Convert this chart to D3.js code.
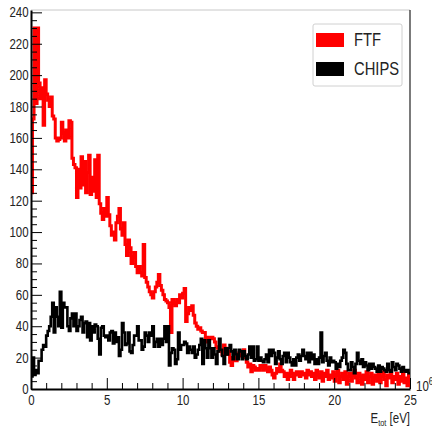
<!DOCTYPE html>
<html>
<head>
<meta charset="utf-8">
<script src="https://cdn.jsdelivr.net/npm/d3@7"></script>
<style>
  body { margin: 0; background: #fff; }
  svg text { font-family: "Liberation Sans", Arial, sans-serif; fill: #222; }
</style>
</head>
<body>
<div id="chart"></div>
<script>
// histogram binning: 250 bins of 0.1 (x in units of 10^6 eV)
const binWidth = 0.1;
const seriesNames = ["FTF", "CHIPS"];
const seriesColors = ["#ff0000", "#000000"];

// FTF counts per bin, 10 bins per row
const ftf = [
  125, 172, 230, 182, 230, 195, 185, 192, 168, 197,
  188, 184, 180, 186, 174, 172, 160, 158, 159, 160,
  170, 163, 158, 165, 160, 171, 170, 147, 143, 141,
  122, 140, 128, 148, 130, 145, 125, 138, 149, 124,
  135, 126, 146, 122, 149, 118, 112, 108, 115, 110,
  122, 111, 104, 98, 100, 95, 106, 110, 115, 102,
  98, 106, 92, 85, 95, 90, 80, 84, 87, 78,
  74, 78, 74, 72, 92, 71, 68, 65, 62, 60,
  58, 62, 65, 68, 73, 66, 63, 60, 57, 56,
  55, 52, 36, 57, 55, 53, 57, 55, 60, 58,
  61, 64, 43, 48, 52, 50, 53, 47, 42, 40,
  38, 39, 37, 36, 36, 30, 33, 32, 32, 33,
  32, 30, 27, 26, 24, 24, 22, 28, 26, 22,
  24, 17, 15, 20, 20, 18, 22, 23, 21, 24,
  25, 20, 17, 14, 16, 11, 15, 14, 12, 13,
  12, 15, 14, 12, 15, 13, 11, 14, 12, 9,
  7, 10, 13, 11, 16, 12, 11, 8, 10, 6,
  8, 12, 10, 6, 9, 11, 10, 8, 11, 9,
  10, 7, 12, 9, 11, 8, 10, 6, 12, 9,
  7, 11, 5, 10, 8, 12, 6, 9, 7, 11,
  5, 9, 12, 4, 8, 10, 6, 11, 3, 8,
  10, 5, 9, 12, 7, 4, 10, 8, 3, 9,
  6, 11, 4, 8, 10, 3, 7, 9, 5, 10,
  4, 8, 11, 6, 2, 9, 7, 10, 4, 8,
  6, 10, 3, 8, 5, 11, 4, 7, 2, 9
];

// CHIPS counts per bin
const chips = [
  8, 20, 9, 12, 10, 18, 18, 25, 28, 27,
  34, 37, 40, 46, 55, 36, 52, 46, 40, 62,
  39, 55, 52, 52, 40, 37, 45, 48, 40, 48,
  37, 40, 44, 46, 36, 42, 43, 33, 42, 31,
  40, 36, 41, 40, 32, 22, 39, 40, 34, 33,
  34, 31, 36, 37, 29, 36, 30, 33, 21, 25,
  42, 36, 28, 29, 36, 24, 23, 28, 34, 34,
  40, 31, 31, 25, 27, 36, 34, 30, 36, 34,
  40, 27, 30, 32, 27, 32, 28, 32, 40, 30,
  40, 15, 23, 26, 25, 16, 19, 36, 25, 28,
  28, 30, 29, 23, 27, 25, 23, 27, 20, 22,
  25, 28, 32, 16, 31, 26, 20, 31, 26, 20,
  26, 22, 16, 24, 32, 25, 21, 16, 26, 22,
  26, 28, 24, 19, 25, 22, 19, 25, 24, 19,
  24, 21, 19, 22, 27, 20, 27, 18, 19, 27,
  18, 20, 18, 17, 19, 22, 17, 25, 21, 25,
  23, 16, 20, 24, 19, 16, 21, 23, 17, 23,
  20, 17, 15, 19, 15, 20, 22, 18, 21, 25,
  21, 19, 23, 17, 23, 19, 22, 16, 19, 16,
  20, 36, 17, 21, 23, 18, 15, 20, 17, 18,
  17, 13, 16, 14, 18, 20, 25, 23, 16, 12,
  12, 17, 14, 10, 16, 23, 18, 16, 19, 14,
  17, 15, 12, 16, 13, 16, 14, 13, 11, 15,
  11, 14, 13, 12, 11, 16, 12, 11, 17, 14,
  12, 16, 15, 13, 11, 14, 12, 11, 12, 10
];

const xMajorTicks = [0, 5, 10, 15, 20, 25];
const yMajorTicks = [0, 20, 40, 60, 80, 100, 120, 140, 160, 180, 200, 220, 240];

const W = 432, H = 429;
const margin = {top: 10, right: 22, bottom: 40, left: 31};
const width = W - margin.left - margin.right;
const height = H - margin.top - margin.bottom;
const narrow = 0.82; // squeeze text horizontally like the narrow reference font

const svg = d3.select("#chart").append("svg")
  .attr("width", W)
  .attr("height", H);

const g = svg.append("g")
  .attr("transform", `translate(${margin.left},${margin.top})`);

const x = d3.scaleLinear().domain([0, 25]).range([0, width]);
const y = d3.scaleLinear().domain([0, 241.5]).range([height, 0]);

// frame top / right
g.append("line").attr("x1", 0).attr("x2", width).attr("y1", 0).attr("y2", 0)
  .attr("stroke", "#c8c8c8").attr("stroke-width", 1);
g.append("line").attr("x1", width).attr("x2", width).attr("y1", 0).attr("y2", height)
  .attr("stroke", "#222").attr("stroke-width", 1.2);

g.append("clipPath").attr("id", "clip")
  .append("rect").attr("width", width).attr("height", height);

const line = d3.line()
  .x(d => x(d[0]))
  .y(d => y(d[1]))
  .curve(d3.curveStepAfter);

function stepPoints(vals) {
  let pts = vals.map((v, i) => [i * binWidth, v]);
  pts.push([vals.length * binWidth, vals[vals.length - 1]]);
  return pts;
}

[ftf, chips].forEach((vals, k) => {
  g.append("path")
    .attr("clip-path", "url(#clip)")
    .attr("d", line(stepPoints(vals)))
    .attr("fill", "none")
    .attr("stroke", seriesColors[k])
    .attr("stroke-width", k === 0 ? 3 : 2.6)
    .attr("stroke-linejoin", "miter");
});

// y axis
const yMinor = d3.range(0, 241, 5).filter(v => v % 20 !== 0);
g.append("g")
  .call(d3.axisLeft(y).tickValues(yMinor).tickSize(-6).tickFormat(""))
  .call(a => a.select(".domain").remove())
  .selectAll("line").attr("stroke", "#000");
const yAxis = g.append("g")
  .call(d3.axisLeft(y).tickValues(yMajorTicks).tickSizeInner(-11).tickSizeOuter(0).tickPadding(3));
yAxis.select(".domain").attr("stroke", "#000").attr("stroke-width", 2);
yAxis.selectAll("line").attr("stroke", "#000");
yAxis.selectAll("text").attr("font-size", 14).attr("transform", `scale(${narrow},1)`);

// x axis
const xMinor = d3.range(0, 26, 1).filter(v => v % 5 !== 0);
g.append("g")
  .attr("transform", `translate(0,${height})`)
  .call(d3.axisBottom(x).tickValues(xMinor).tickSize(-6).tickFormat(""))
  .call(a => a.select(".domain").remove())
  .selectAll("line").attr("stroke", "#000");
const xAxis = g.append("g")
  .attr("transform", `translate(0,${height})`)
  .call(d3.axisBottom(x).tickValues(xMajorTicks).tickSizeInner(-11).tickSizeOuter(0).tickPadding(6));
xAxis.select(".domain").attr("stroke", "#000").attr("stroke-width", 2);
xAxis.selectAll("line").attr("stroke", "#000");
xAxis.selectAll("text").attr("font-size", 14).attr("transform", `scale(${narrow},1)`);

// axis title and exponent
const title = svg.append("g")
  .attr("transform", `translate(${margin.left + width},423) scale(${narrow},1)`)
  .append("text")
  .attr("text-anchor", "end")
  .attr("font-size", 14);
title.append("tspan").text("E");
title.append("tspan").attr("font-size", 9).attr("dy", 3).text("tot");
title.append("tspan").attr("dy", -3).text(" [eV]");

const expo = svg.append("g")
  .attr("transform", `translate(416,391) scale(${narrow},1)`)
  .append("text")
  .attr("font-size", 14);
expo.append("tspan").text("10");
expo.append("tspan").attr("font-size", 10).attr("dy", -6).text("6");

// legend
const legend = svg.append("g").attr("transform", "translate(313,24)");
legend.append("rect")
  .attr("width", 89).attr("height", 62)
  .attr("rx", 2)
  .attr("fill", "#fff")
  .attr("stroke", "#d0d0d0");
seriesNames.forEach((name, i) => {
  legend.append("rect")
    .attr("x", 3).attr("y", 9 + i * 29)
    .attr("width", 28).attr("height", 14)
    .attr("fill", seriesColors[i]);
  legend.append("g")
    .attr("transform", `translate(41,${16 + i * 29}) scale(${narrow},1)`)
    .append("text")
    .attr("dy", "0.36em")
    .attr("font-size", 18)
    .text(name);
});
</script>
</body>
</html>
